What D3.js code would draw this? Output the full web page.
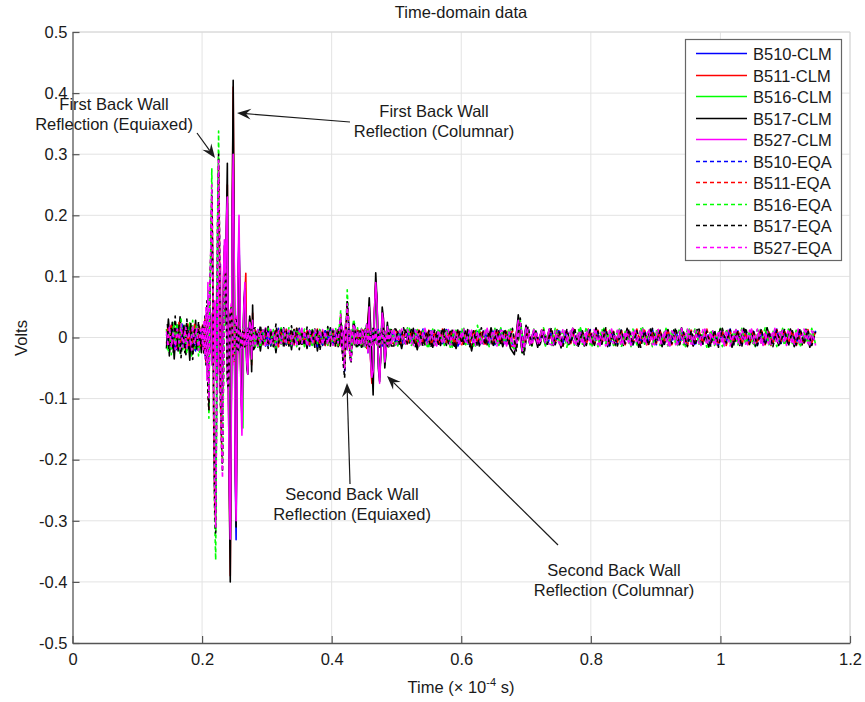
<!DOCTYPE html>
<html>
<head>
<meta charset="utf-8">
<style>
  body { margin: 0; background: #fff; }
  text { font-family: "Liberation Sans", Arial, sans-serif; fill: #1a1a1a; }
  .grid line { stroke: #e3e3e3; stroke-width: 1; }
</style>
<script src="https://d3js.org/d3.v7.min.js"></script>
</head>
<body>
<svg width="865" height="702"></svg>
<script>
// sampling of the record, in units of 1e-4 s: [start, end, step]
var clmTimeSegments = [
  [0.145, 0.199, 0.003],
  [0.200, 0.2795, 0.0015],
  [0.282, 0.410, 0.004],
  [0.412, 0.492, 0.002],
  [0.496, 1.144, 0.006]
];
var eqaTimeSegments = [
  [0.1465, 0.2005, 0.003],
  [0.200, 0.2795, 0.0015],
  [0.282, 0.410, 0.004],
  [0.412, 0.492, 0.002],
  [0.499, 1.147, 0.006]
];

// amplitudes in mV, one value per sample time
var b510Clm = [
  5,-12,18,-8,14,-20,10,-6,22,-15,8,-18,16,-10,12,-22,9,-14,6,
  -8,15,-12,10,-18,14,-10,20,-15,12, -20,18,-25,30,-20,15,-35,40,-30,50, -60,-90,60,120,30,160,220,-40,-200,-330,
  -100,180,300,120,-200,-331,-60,90,173,50, -80,-110,-40,50,70,20,-40,-50,-10,30, 15,-30,25,-10,
  8,-10,12,-7,9,-13,6,-9,11,-8, 14,-6,10,-12,7,-9,13,-11,5,-8, 10,-14,9,-6,12,-10,8,-13,6,-9, 11,-7,10,
  10,-12,15,-20,8,18,-15,10,-12,8, -10,12,-8,10,-14,9,-11,13,-7,10, -15,20,-25,45,-30,-70,-60,40,85,60, -40,-65,-20,40,20,-40,-15,20,-10,12, -8,
  9,-11,7,-10,12,-8,10,-9,6,-12, 11,-7,9,-10,8,-13,10,-6,12,-9, -15,8,-10,11,-7,9,-12,10,-8,7, -12,-18,25,-20,15,-10,12,-9,8,-11,
  10,-7,9,-12,8,-10,11,-6,13,-9, 7,-11,10,-8,12,-9,6,-10,11,-7, 9,-12,8,-10,13,-6,10,-9,7,-11, 12,-8,9,-10,6,-12,11,-7,10,-9,
  8,-13,9,-6,12,-10,7,-11,10,-8, 11,-9,6,-12,10,-7,13,-10,8,-9, 12,-6,10,-11,7,-9,11,-8,9
];
var b511Clm = [
  -10,16,-6,20,-14,8,-18,24,-9,12,-16,22,-8,15,-20,10,-12,18,-7,
  12,-10,16,-14,9,-20,15,-12,18,-10, 22,-18,15,-28,25,-20,30,-35,45,-55, 30,-100,80,140,40,170,250,-50,-230,-390,
  -110,190,410,140,-170,-290,-80,70,150,40, -80,-120,-30,50,70,105,-45,-55,-10,30, 20,-45,40,-15,
  -9,12,-6,10,-13,8,-11,7,-10,14, -8,11,-12,6,-9,13,-7,10,-11,9, -14,8,-6,11,-10,12,-8,7,-13,10, -9,12,-6,
  -12,15,-10,-25,12,20,-18,12,-15,10, 12,-10,14,-8,11,-13,9,-12,10,-7, 14,-18,30,50,-35,-75,-55,45,90,55, -35,-60,-25,35,25,-35,-20,15,-12,10, -9,
  -10,8,-12,11,-7,9,-13,10,-8,12, -9,7,-11,13,-6,10,-12,8,-10,9, -18,11,-7,10,-9,12,-8,6,-11,10, -14,-15,28,-22,12,-9,11,-8,10,-12,
  7,-10,13,-9,8,-11,12,-7,9,-10, 14,-8,11,-12,6,-9,10,-13,8,-7, 12,-10,9,-8,11,-12,7,-9,13,-10, 8,-11,10,-6,12,-9,7,-13,11,-8,
  10,-12,6,-9,14,-8,11,-10,7,-12, 9,-7,12,-11,8,-10,6,-13,10,-9, 11,-8,13,-10,7,-12,9,-6,10
];
var b516Clm = [
  14,-22,10,-17,25,-12,18,-26,8,-15,20,-10,24,-30,12,-18,15,-24,10,
  -15,20,-12,18,-22,15,-18,25,-20,16, -25,20,-30,25,-35,40,-30,45,-40,60, -50,-80,50,110,20,150,200,-30,-180,-300,
  -90,170,280,110,-150,-250,-50,80,140,30, -70,-120,-148,40,60,25,-35,-60,-15,30, 22,-40,30,-18,
  13,-16,9,-12,15,-8,11,-14,10,-9, 16,-11,8,-13,12,-7,14,-10,9,-15, 11,-8,13,-12,10,-16,8,-9,15,-11, 12,-10,9,
  15,-10,20,-15,10,25,-20,15,-18,12, -14,16,-10,12,-15,11,-13,15,-9,12, -16,22,-20,40,-25,-60,-50,35,75,50, -30,-55,-30,30,25,-45,-25,20,-15,14, -11,
  12,-14,9,-11,15,-8,13,-12,10,-15, 14,-9,11,-13,10,-16,12,-8,15,-11, 10,-14,13,-9,12,-10,15,-13,9,-11, 14,-20,22,-25,18,-12,14,-10,11,-14,
  13,-9,12,-15,10,-12,14,-8,16,-11, 9,-14,12,-10,15,-11,8,-13,14,-9, 11,-15,10,-12,16,-8,13,-11,9,-14, 15,-10,12,-13,9,-15,14,-9,12,-11,
  10,-16,11,-8,15,-12,9,-14,13,-10, 14,-11,8,-15,12,-9,16,-12,10,-11, 15,-8,12,-14,9,-11,14,-10,11
];
var b517Clm = [
  -18,30,-12,25,-35,15,-22,34,-10,20,-28,12,-37,18,-15,28,-20,10,-25,
  8,-12,15,-10,6,-14,12,-9,18,-15, 10,-20,25,-18,12,-30,40,-25,60,-80, 20,-120,90,150,40,180,285,-60,-250,-400,
  -120,200,421,150,-180,-310,-90,80,160,40, -90,-130,-30,60,80,20,-50,-60,-10,35, 20,-56,53,-20,
  -15,10,-22,12,-8,18,-14,9,-25,11, -10,16,-12,8,-20,13,-9,15,-11,7, -18,12,-10,14,-22,9,-13,11,-8,16, -12,10,-15,
  -10,15,-12,10,-15,12,-9,14,-11,10, -8,13,-12,9,-14,11,-10,12,-15,10, -12,20,25,65,20,-40,-94,30,106,60, -50,-72,-20,50,30,-50,-20,25,-15,12, -14,
  -14,10,-18,12,-9,15,-20,8,-12,11, -16,9,-13,14,-10,12,-18,10,-11,13, -22,10,-14,9,-12,16,-10,11,-15,8, -18,-28,37,-25,20,-12,10,-16,12,-9,
  14,-13,10,-17,9,-11,15,-12,8,-14, 11,-10,16,-9,12,-15,10,-12,9,-13, 15,-11,8,-16,12,-10,14,-9,11,-15, 10,-13,12,-8,16,-11,9,-14,13,-10,
  12,-15,9,-11,14,-12,10,-16,8,-13, 15,-10,12,-14,9,-12,16,-11,10,-13, 11,-9,14,-15,10,-12,13,-16,9
];
var b527Clm = [
  10,-15,20,-10,16,-18,12,-20,15,-8,18,-14,10,-22,16,-12,20,-9,14,
  -12,18,-20,25,-15,22,-30,35,-25,40, -45,50,-40,60,-70,80,-60,100,-90,120, -150,-120,100,160,60,190,230,-80,-240,-330,
  -150,200,300,140,-200,-300,-90,110,200,60, -100,-160,-60,50,90,30,-40,-60,-15,25, 18,-35,28,-14,
  11,-14,8,-12,16,-9,13,-11,10,-15, 9,-12,14,-8,11,-13,7,-10,15,-9, 12,-11,10,-14,8,-12,13,-9,11,-10, 14,-8,12,
  12,-15,18,-20,15,25,-20,18,-15,12, -12,14,-10,13,-11,9,-12,14,-10,11, -14,22,-25,50,-35,-65,-55,45,90,55, -40,-75,-25,40,25,-40,-20,18,-14,12, -10,
  12,-10,14,-11,9,-13,10,-12,15,-9, 11,-14,10,-8,13,-12,9,-11,14,-10, 12,-13,8,-11,15,-10,12,-9,11,-14, 10,-20,28,-22,16,-11,13,-10,12,-9,
  14,-12,10,-13,11,-9,15,-11,8,-12, 13,-10,11,-14,9,-12,14,-8,12,-11, 10,-13,12,-9,14,-11,8,-12,13,-10, 11,-14,9,-12,15,-10,12,-11,10,-13,
  14,-9,11,-12,10,-14,12,-8,13,-11, 9,-12,14,-10,11,-13,10,-11,15,-9, 12,-13,10,-11,14,-9,12,-12,10
];
var b510Eqa = [
  -8,14,-12,10,-16,20,-9,13,-18,8,-11,16,-14,9,-20,12,-7,15,-10,
  10,-15,20,-30,35,-50,70,-110,50,130, 220,100,-130,-250,-280,-90,170,270,130,-100, -160,-190,-50,70,100,35,-60,-80,-25,35,
  45,10,-25,-35,20,30,-15,-20,12,15, -10,-18,12,10,-14,9,-12,15,-8,10, -12,8,-10,13,
  -10,13,-8,11,-14,9,-12,7,-10,15, -9,12,-11,8,-13,10,-7,14,-12,9, -11,13,-8,10,-15,9,-12,11,-6,12, -10,8,-13,
  15,35,-10,-35,-55,8,55,25,-25,-40, 5,25,15,-12,10,-14,11,-9,13,-10, 12,-11,9,-13,10,-12,14,-8,11,-10, 13,-9,12,-14,8,-11,10,-12,9,-10, 11,
  -11,9,-13,10,-8,12,-10,14,-9,11, -12,8,-10,13,-11,9,-14,10,-7,12, -10,11,-13,8,-12,10,-9,14,-11,9, -12,-16,22,-18,14,-10,12,-8,11,-13,
  9,-11,14,-10,12,-8,10,-13,11,-9, 13,-12,8,-10,11,-14,9,-11,12,-10, 8,-13,11,-9,12,-10,14,-12,9,-11, 10,-8,13,-11,9,-12,10,-14,8,-10,
  12,-11,9,-13,10,-8,14,-10,11,-12, 9,-10,12,-13,8,-11,10,-9,14,-12, 10,-11,8,-13,12,-10,9,-12,11
];
var b511Eqa = [
  15,-9,22,-14,11,-18,26,-10,14,-20,9,-13,19,-16,24,-8,12,-17,20,
  -14,18,-25,30,-40,55,-80,-120,60,140, 230,110,-140,-270,-300,-95,180,280,140,-110, -170,-200,-55,75,105,40,-65,-85,-30,40,
  50,15,-30,-40,25,35,-18,-22,14,16, -12,-16,14,9,-15,10,-11,14,-9,12, -10,9,-13,11,
  12,-9,14,-11,8,-13,10,-7,12,-15, 11,-8,13,-10,9,-12,15,-11,7,-10, 13,-12,9,-8,14,-11,10,-13,12,-9, 8,-14,11,
  -12,40,-15,-30,-50,12,50,30,-28,-38, 8,22,12,-10,13,-11,9,-14,12,-8, 10,-13,14,-9,11,-12,8,-10,13,-11, 9,-14,12,-10,11,-8,13,-12,10,-9, 12,
  13,-10,8,-12,11,-9,14,-11,10,-13, 9,-12,14,-8,11,-10,13,-12,9,-11, 12,-9,10,-14,8,-11,13,-10,12,-8, 11,-18,20,-15,12,-13,9,-11,14,-10,
  12,-8,11,-14,9,-10,13,-12,8,-11, 10,-13,12,-9,14,-11,10,-8,13,-12, 9,-11,14,-10,12,-13,8,-10,11,-9, 13,-12,10,-11,9,-14,12,-8,11,-10,
  14,-10,9,-12,11,-13,10,-9,12,-11, 8,-13,11,-10,14,-12,9,-11,13,-8, 12,-10,11,-14,9,-11,13,-9,10
];
var b516Eqa = [
  -20,12,-28,18,-10,24,-15,30,-22,10,-26,16,-12,28,-18,22,-30,14,-16,
  10,-15,20,-30,40,-60,80,-132,60,150, 277,120,-150,-300,-364,-100,200,338,150,-120, -180,-206,-60,80,110,40,-70,-90,-30,40,
  50,10,-30,-40,25,30,-20,-25,15,18, -14,-20,15,12,-16,11,-13,16,-10,12, -14,10,-12,15,
  -14,11,-16,9,-12,15,-10,13,-17,8, -11,14,-9,16,-13,10,-15,12,-8,14, -12,9,-16,13,-10,15,-11,8,-14,12, -9,16,-13,
  20,45,-15,-30,-45,15,78,35,-20,-35, 10,30,18,-14,16,-12,13,-16,10,-13, 15,-11,12,-15,9,-14,16,-10,13,-12, 11,-16,14,-9,12,-13,10,-15,14,-11, 13,
  -15,12,-10,16,-13,9,-14,11,-17,10, -12,15,-9,13,-16,11,-10,14,-12,8, -14,20,-11,12,-15,10,-13,16,-9,12, -16,-20,30,-20,15,-14,11,-12,16,-10,
  -13,15,-9,12,-16,10,-14,13,-11,17, -12,9,-15,14,-10,12,-13,11,-16,10, -9,14,-12,16,-11,10,-15,12,-13,9, -14,11,-10,15,-12,13,-9,16,-11,10,
  -16,12,-13,9,-15,14,-10,11,-12,15, -11,10,-14,13,-9,16,-12,10,-15,11, -13,14,-10,12,-16,9,-11,15,-12
];
var b517Eqa = [
  22,-30,16,-24,35,-14,20,-33,12,-25,30,-18,24,-36,14,-20,26,-12,18,
  -15,20,-28,35,-45,60,-90,-119,70,140, 240,110,-140,-280,-320,-95,190,300,140,-110, -170,-220,-55,85,105,45,-70,-85,-25,40,
  48,12,-28,-38,22,32,-18,-24,14,18, -15,-20,14,12,-18,10,-13,15,-11,14, -16,12,-10,14,
  16,-12,20,-10,14,-18,11,-15,22,-9, 13,-17,10,-14,19,-11,15,-20,9,-13, 17,-10,14,-16,12,-21,10,-12,18,-14, 11,-15,13,
  -10,30,-20,-45,-66,10,60,30,-30,-42, 0,25,15,-15,12,-14,10,-16,13,-11, 14,-12,10,-15,11,-13,15,-10,12,-14, 10,-16,13,-11,15,-12,9,-14,12,-10, 14,
  14,-12,16,-10,13,-15,11,-14,9,-16, 12,-11,15,-13,10,-17,14,-9,12,-15, 11,-14,16,-12,9,-15,13,-11,14,-10, 15,-22,32,-28,18,-13,10,-15,12,-11,
  16,-12,9,-14,13,-10,15,-16,11,-13, 12,-15,10,-11,16,-13,9,-14,12,-10, 14,-12,11,-16,10,-13,15,-9,12,-14, 13,-10,16,-12,9,-15,11,-13,14,-11,
  10,-14,12,-16,15,-9,13,-12,11,-15, 16,-11,10,-13,14,-12,9,-15,12,-10, 13,-14,11,-12,15,-10,12,-13,9
];
var b527Eqa = [
  -12,18,-15,10,-20,14,-9,22,-16,12,-18,9,-14,20,-11,16,-21,13,-10,
  15,-20,28,-35,50,-70,90,-100,80,150, 250,130,-120,-260,-310,-110,180,290,160,-100, -180,-230,-70,90,120,50,-60,-90,-35,45,
  55,15,-30,-45,25,35,-20,-25,15,18, -13,-18,14,11,-15,12,-12,14,-10,11, -12,10,-11,13,
  -11,13,-9,12,-14,10,-12,8,-13,11, -10,14,-8,12,-11,9,-13,12,-9,10, -14,11,-10,13,-8,12,-12,10,-11,9, -13,11,-9,
  15,38,-12,-32,-50,12,55,28,-25,-38, 6,22,14,-12,11,-13,10,-11,12,-9, 13,-10,11,-12,9,-13,12,-10,14,-11, 10,-12,13,-9,11,-14,10,-11,12,-10, 11,
  -12,11,-9,13,-10,12,-14,9,-11,10, -13,12,-10,9,-12,14,-11,10,-9,13, -11,10,-12,13,-9,11,-14,12,-10,9, -13,-14,24,-18,13,-12,10,-11,13,-9,
  -12,11,-10,14,-9,12,-13,10,-11,12, -10,13,-12,9,-14,11,-10,12,-13,10, -11,12,-9,13,-10,14,-12,9,-11,10, -13,11,-12,10,-9,14,-11,12,-10,13,
  -12,9,-13,11,-10,12,-14,10,-9,13, -11,12,-10,14,-12,9,-13,11,-10,12, -9,13,-11,10,-12,14,-10,11,-13
];

var seriesLabels = ["B510-CLM", "B511-CLM", "B516-CLM", "B517-CLM", "B527-CLM",
                    "B510-EQA", "B511-EQA", "B516-EQA", "B517-EQA", "B527-EQA"];
var seriesValues = [b510Clm, b511Clm, b516Clm, b517Clm, b527Clm,
                    b510Eqa, b511Eqa, b516Eqa, b517Eqa, b527Eqa];
var xTicks = [0, 0.2, 0.4, 0.6, 0.8, 1, 1.2];
var yTicks = [-0.5, -0.4, -0.3, -0.2, -0.1, 0, 0.1, 0.2, 0.3, 0.4, 0.5];

var colors = ["#0000ff", "#ff0000", "#00ff00", "#000000", "#ff00ff"];

function buildTimes(segs) {
    var out = [];
    segs.forEach(function(s) {
        var n = Math.round((s[1] - s[0]) / s[2]);
        for (var i = 0; i <= n; i++) out.push(s[0] + i * s[2]);
    });
    return out;
}
var clmTimes = buildTimes(clmTimeSegments);
var eqaTimes = buildTimes(eqaTimeSegments);

var svg = d3.select("svg");
var plotL = 72.5, plotR = 850, plotT = 32, plotB = 643;

var x = d3.scaleLinear().domain([0, 1.2]).range([plotL, plotR]);
var y = d3.scaleLinear().domain([-0.5, 0.5]).range([plotB, plotT]);
var fmt = function(d) { return String(+d.toFixed(1)); };

// grid
var grid = svg.append("g").attr("class", "grid");
grid.selectAll(".vx").data(xTicks.slice(1)).enter().append("line")
    .attr("x1", function(d) { return x(d); }).attr("x2", function(d) { return x(d); })
    .attr("y1", plotT).attr("y2", plotB);
grid.selectAll(".hy").data(yTicks.slice(1)).enter().append("line")
    .attr("x1", plotL).attr("x2", plotR)
    .attr("y1", function(d) { return y(d); }).attr("y2", function(d) { return y(d); });

// top/right box edges
svg.append("line").attr("x1", plotL).attr("x2", plotR).attr("y1", plotT).attr("y2", plotT)
    .attr("stroke", "#d6d6d6");
svg.append("line").attr("x1", plotR).attr("x2", plotR).attr("y1", plotT).attr("y2", plotB)
    .attr("stroke", "#d6d6d6");

// axes
var xAxis = d3.axisBottom(x).tickValues(xTicks).tickFormat(fmt).tickSizeInner(-7).tickSizeOuter(0).tickPadding(12);
var yAxis = d3.axisLeft(y).tickValues(yTicks).tickFormat(fmt).tickSizeInner(-7).tickSizeOuter(0).tickPadding(12);

var gx = svg.append("g").attr("transform", "translate(0," + plotB + ")").call(xAxis);
var gy = svg.append("g").attr("transform", "translate(" + plotL + ",0)").call(yAxis);
[gx, gy].forEach(function(g) {
    g.select(".domain").attr("stroke", "#555").attr("stroke-width", 1.3);
    g.selectAll(".tick line").attr("stroke", "#555").attr("stroke-width", 1.2);
    g.selectAll(".tick text").attr("font-size", "16.5px").attr("fill", "#1a1a1a")
        .attr("font-family", "Liberation Sans, Arial, sans-serif");
});
gx.selectAll(".tick text").attr("y", 10).attr("dy", "0.71em");
gy.selectAll(".tick text").attr("x", -5);

// series
var line = d3.line()
    .x(function(d) { return x(d[0]); })
    .y(function(d) { return y(d[1] / 1000); });

var bad = [];
seriesValues.forEach(function(vals, k) {
    var times = k >= 5 ? eqaTimes : clmTimes;
    if (vals.length !== times.length) bad.push(seriesLabels[k] + ":" + vals.length);
    var pts = times.slice(0, vals.length).map(function(t, i) { return [t, vals[i]]; });
    svg.append("path")
        .datum(pts)
        .attr("d", line)
        .attr("fill", "none")
        .attr("stroke", colors[k % 5])
        .attr("stroke-width", 1.6)
        .attr("stroke-linejoin", "round")
        .attr("stroke-dasharray", k >= 5 ? "4,3" : null);
});

// title and labels
svg.append("text").attr("x", 461).attr("y", 18).attr("text-anchor", "middle")
    .style("font-size", "16.5px").text("Time-domain data");

var xl = svg.append("text").attr("x", 461).attr("y", 693).attr("text-anchor", "middle")
    .style("font-size", "16.5px");
xl.append("tspan").text("Time (\u00d7 10");
xl.append("tspan").attr("dy", -7).style("font-size", "11px").text("-4");
xl.append("tspan").attr("dy", 7).text(" s)");

svg.append("text").attr("transform", "translate(27,338) rotate(-90)")
    .attr("text-anchor", "middle").style("font-size", "16.5px").text("Volts");

// legend
var lg = svg.append("g");
lg.append("rect").attr("x", 685.5).attr("y", 39.5).attr("width", 156).attr("height", 221)
    .attr("fill", "#fff").attr("stroke", "#666").attr("stroke-width", 1.2);
seriesLabels.forEach(function(name, k) {
    var cy = Math.round(53 + k * 21.5) + 0.5;
    lg.append("line").attr("x1", 696).attr("x2", 747).attr("y1", cy).attr("y2", cy)
        .attr("stroke", colors[k % 5]).attr("stroke-width", 1.5)
        .attr("stroke-dasharray", k >= 5 ? "4,3" : null);
    lg.append("text").attr("x", 753).attr("y", cy + 6).style("font-size", "16.5px").text(name);
});

// annotations
function arrow(x0, y0, x1, y1) {
    var dx = x1 - x0, dy = y1 - y0, len = Math.sqrt(dx * dx + dy * dy);
    var ux = dx / len, uy = dy / len, nx = -uy, ny = ux;
    var L = 14, W = 5.5, N = 9;
    svg.append("line").attr("x1", x0).attr("y1", y0)
        .attr("x2", x1 - ux * N).attr("y2", y1 - uy * N)
        .attr("stroke", "#1a1a1a").attr("stroke-width", 1.2);
    svg.append("path").attr("fill", "#1a1a1a")
        .attr("d", "M" + x1 + "," + y1 +
            "L" + (x1 - ux * L + nx * W) + "," + (y1 - uy * L + ny * W) +
            "L" + (x1 - ux * N) + "," + (y1 - uy * N) +
            "L" + (x1 - ux * L - nx * W) + "," + (y1 - uy * L - ny * W) + "Z");
}
function note(cx, by, lines) {
    lines.forEach(function(s, i) {
        svg.append("text").attr("x", cx).attr("y", by + i * 20).attr("text-anchor", "middle")
            .style("font-size", "16.5px").text(s);
    });
}
note(114, 110, ["First Back Wall", "Reflection (Equiaxed)"]);
arrow(197, 133, 215, 158);
note(434, 117, ["First Back Wall", "Reflection (Columnar)"]);
arrow(350, 122, 237, 113);
note(352, 500, ["Second Back Wall", "Reflection (Equiaxed)"]);
arrow(350, 484, 347, 383);
note(614, 576, ["Second Back Wall", "Reflection (Columnar)"]);
arrow(558, 545, 387, 376);

if (bad.length) throw new Error("length mismatch " + bad.join(" "));
</script>
</body>
</html>
